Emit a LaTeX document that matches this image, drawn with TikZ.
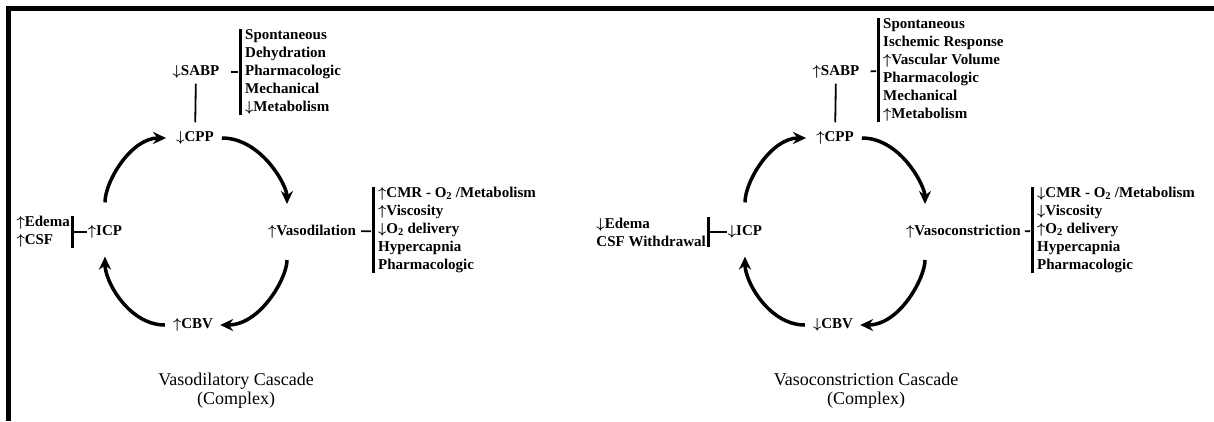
\documentclass[tikz,border=0pt]{standalone}
\usepackage{fontspec}
\setmainfont{Liberation Serif}
\usetikzlibrary{positioning,arrows.meta}
\newcommand\upar{{\boldmath$\uparrow$}}
\newcommand\dnar{{\boldmath$\downarrow$}}

\begin{document}
\begin{tikzpicture}[x=1pt, y=1pt,
        lbl/.style={font=\fontsize{15}{18}\selectfont\bfseries, inner sep=1pt},
        lst/.style={font=\fontsize{15}{18}\selectfont\bfseries, align=left,
                    inner xsep=5pt, inner ysep=0pt},
        ttl/.style={font=\fontsize{18}{19}\selectfont, align=center},
        cyc/.style={line width=3.5pt, -{Stealth[length=13pt,width=12pt]}},
        link/.style={line width=1.8pt},
        bar/.style={line width=3pt}
    ]
    \useasboundingbox (0,-421) rectangle (1214,0);

    % frame
    \draw[line width=5pt] (8.5,-421) |- (1214,-8.5);

    % Left cascade
    \node[lbl] (sabpL) at (196,-72) {\dnar SABP};
    \node[lst, anchor=west] (sabpLstL) at (240,-72)
        {Spontaneous\\Dehydration\\Pharmacologic\\Mechanical\\\dnar Metabolism};
    \node[lbl] (cppL) at (195,-138) {\dnar CPP};
    \node[lbl, anchor=west] (vasoL) at (267,-232) {\upar Vasodilation};
    \node[lst, anchor=west] (vasoLstL) at (373,-230)
        {\upar CMR - O\textsubscript{2} /Metabolism\\\upar Viscosity\\
         \dnar O\textsubscript{2} delivery\\Hypercapnia\\Pharmacologic};
    \node[lbl] (cbvL) at (193,-325) {\upar CBV};
    \node[lbl] (icpL) at (105,-232) {\upar ICP};
    \node[lst, anchor=east, inner xsep=2pt] (edL) at (72,-232) {\upar Edema\\\upar CSF};
    \node[ttl] (ttlL) at (236,-391) {Vasodilatory Cascade\\(Complex)};

    \draw[link, shorten <=4pt, shorten >=8pt] (sabpL) -- (cppL);
    \draw[link, shorten <=10pt, shorten >=2pt] (sabpL) -- (sabpLstL);
    \draw[bar] (sabpLstL.north west) -- (sabpLstL.south west);
    \draw[link, shorten <=4pt, shorten >=2pt] (vasoL) -- (vasoLstL);
    \draw[bar] (vasoLstL.north west) -- (vasoLstL.south west);
    \draw[bar] (edL.north east) -- (edL.south east);
    \draw[link] (edL) -- (icpL);

    \draw[cyc, shorten <=22pt, shorten >=9pt] (icpL) to[out=90, in=180] (cppL);
    \draw[cyc, shorten <=7pt, shorten >=28pt] (cppL) to[out=0, in=90] ([xshift=20pt]vasoL.west);
    \draw[cyc, shorten <=28pt, shorten >=6pt] ([xshift=20pt]vasoL.west) to[out=-90, in=0] (cbvL);
    \draw[cyc, shorten <=7pt, shorten >=17pt] (cbvL) to[out=180, in=-90] (icpL);

    % Right cascade
    \node[lbl] (sabpR) at (836,-72) {\upar SABP};
    \node[lst, anchor=west] (sabpLstR) at (878,-70)
        {Spontaneous\\Ischemic Response\\\upar Vascular Volume\\Pharmacologic\\Mechanical\\\upar Metabolism};
    \node[lbl] (cppR) at (835,-138) {\upar CPP};
    \node[lbl, anchor=west] (vasoR) at (905,-232) {\upar Vasoconstriction};
    \node[lst, anchor=west] (vasoLstR) at (1032,-230)
        {\dnar CMR - O\textsubscript{2} /Metabolism\\\dnar Viscosity\\
         \upar O\textsubscript{2} delivery\\Hypercapnia\\Pharmacologic};
    \node[lbl] (cbvR) at (833,-325) {\dnar CBV};
    \node[lbl] (icpR) at (745,-232) {\dnar ICP};
    \node[lst, anchor=east, inner xsep=2pt] (edR) at (708,-232) {\dnar Edema\\CSF Withdrawal};
    \node[ttl] (ttlR) at (866,-391) {Vasoconstriction Cascade\\(Complex)};

    \draw[link, shorten <=4pt, shorten >=8pt] (sabpR) -- (cppR);
    \draw[link, shorten <=10pt, shorten >=2pt] (sabpR) -- (sabpLstR);
    \draw[bar] (sabpLstR.north west) -- (sabpLstR.south west);
    \draw[link, shorten <=3pt, shorten >=2pt] (vasoR) -- (vasoLstR);
    \draw[bar] (vasoLstR.north west) -- (vasoLstR.south west);
    \draw[bar] (edR.north east) -- (edR.south east);
    \draw[link] (edR) -- (icpR);

    \draw[cyc, shorten <=22pt, shorten >=9pt] (icpR) to[out=90, in=180] (cppR);
    \draw[cyc, shorten <=7pt, shorten >=28pt] (cppR) to[out=0, in=90] ([xshift=20pt]vasoR.west);
    \draw[cyc, shorten <=28pt, shorten >=6pt] ([xshift=20pt]vasoR.west) to[out=-90, in=0] (cbvR);
    \draw[cyc, shorten <=7pt, shorten >=17pt] (cbvR) to[out=180, in=-90] (icpR);

\end{tikzpicture}
\end{document}
